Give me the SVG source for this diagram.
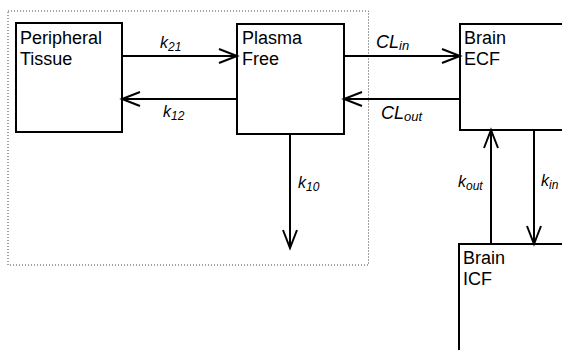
<svg xmlns="http://www.w3.org/2000/svg" width="562" height="350" viewBox="0 0 562 350">
<defs>
<style>
.box{fill:#fff;stroke:#000;stroke-width:2}
.t{font-family:"Liberation Sans",Arial,sans-serif;font-size:18px;fill:#000}
.lbl{font-family:"Liberation Sans",Arial,sans-serif;font-style:italic;font-size:16px;fill:#000}
.sub{font-size:12px}
.lblc{font-family:"Liberation Sans",Arial,sans-serif;font-style:italic;font-size:18px;fill:#000}
.subc{font-size:13px}
.edge{fill:none;stroke:#000;stroke-width:2;marker-end:url(#arr)}
</style>
<marker id="arr" markerUnits="userSpaceOnUse" markerWidth="24" markerHeight="20" refX="19" refY="8" orient="auto">
<path d="M1,1 L19,8 L1,15" fill="none" stroke="#000" stroke-width="2"/>
</marker>
</defs>
<rect x="8" y="11" width="360.5" height="254" fill="none" stroke="#444" stroke-width="1" stroke-dasharray="1,2"/>
<g id="peripheral">
<rect class="box" x="16" y="23" width="106" height="109"/>
<text class="t" x="20" y="44">Peripheral</text>
<text class="t" x="20" y="65">Tissue</text>
</g>
<g id="plasma">
<rect class="box" x="237" y="24" width="107" height="110"/>
<text class="t" x="242" y="44">Plasma</text>
<text class="t" x="242" y="65">Free</text>
</g>
<g id="brain-ecf">
<rect class="box" x="460" y="24" width="120" height="106"/>
<text class="t" x="464" y="44">Brain</text>
<text class="t" x="464" y="65">ECF</text>
</g>
<g id="brain-icf">
<rect class="box" x="459" y="244" width="120" height="120"/>
<text class="t" x="463" y="264">Brain</text>
<text class="t" x="463" y="285">ICF</text>
</g>
<g id="connectors">
<line class="edge" x1="122" y1="56" x2="237" y2="56"/>
<line class="edge" x1="237" y1="99" x2="122" y2="99"/>
<line class="edge" x1="344" y1="56" x2="460" y2="56"/>
<line class="edge" x1="460" y1="99" x2="344" y2="99"/>
<line class="edge" x1="290" y1="134" x2="290" y2="248"/>
<line class="edge" x1="491" y1="244" x2="491" y2="130"/>
<line class="edge" x1="534" y1="130" x2="534" y2="244"/>
<text class="lbl" x="160" y="48">k<tspan class="sub" dy="3">21</tspan></text>
<text class="lbl" x="163" y="117">k<tspan class="sub" dy="3">12</tspan></text>
<text class="lblc" x="376" y="48">CL<tspan class="subc" dy="2">in</tspan></text>
<text class="lblc" x="381" y="119">CL<tspan class="subc" dy="2">out</tspan></text>
<text class="lbl" x="298" y="188">k<tspan class="sub" dy="3">10</tspan></text>
<text class="lbl" x="458" y="187">k<tspan class="sub" dy="3">out</tspan></text>
<text class="lbl" x="541" y="186">k<tspan class="sub" dy="3">in</tspan></text>
</g>
</svg>
